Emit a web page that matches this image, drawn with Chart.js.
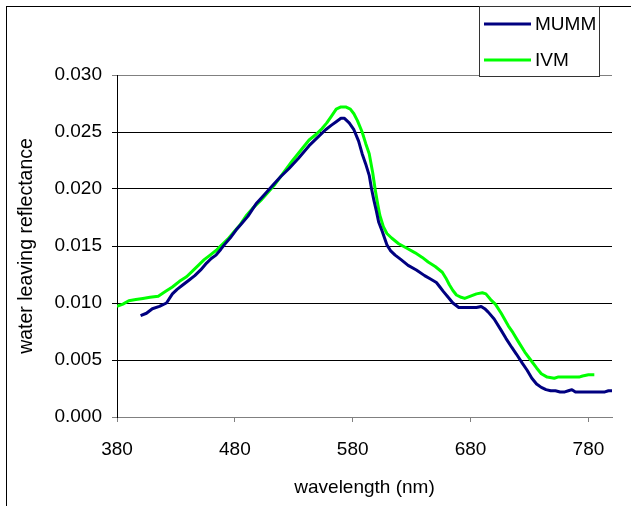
<!DOCTYPE html>
<html>
<head>
<meta charset="utf-8">
<script src="https://cdn.jsdelivr.net/npm/chart.js@4.4.1/dist/chart.umd.min.js"></script>
<style>
  body { margin: 0; background: #fff; }
</style>
</head>
<body>
<canvas id="chart" width="631" height="506"></canvas>
<script>

// wavelength ticks shown on the x axis
const xTickLabels = [380, 480, 580, 680, 780];

// MUMM spectrum
const mummWavelength = [400, 405, 410, 416, 422, 427, 431, 436, 441, 446, 451, 456, 460, 464, 468, 471, 476, 481, 486, 491,
  498, 505, 512, 519, 526, 534, 543, 550, 557, 562, 566, 570, 573, 577, 581, 585, 588, 591, 594, 596,
  598, 600, 602, 605, 609, 612, 616, 621, 627, 634, 641, 646, 651, 654, 657, 661, 665, 670, 676, 680,
  685, 689, 692, 695, 700, 706, 710, 715, 719, 724, 728, 732, 736, 740, 744, 748, 752, 756, 760, 763,
  766, 769, 776, 782, 788, 794, 797, 800];
const mummReflectance = [0.0089, 0.0091, 0.0095, 0.0097, 0.0100, 0.0108, 0.0112, 0.0116, 0.0120, 0.0124, 0.0129, 0.0135, 0.0139, 0.0142, 0.0147, 0.0151, 0.0157, 0.0164, 0.0170, 0.0176,
  0.0187, 0.0195, 0.0203, 0.0211, 0.0218, 0.0227, 0.0238, 0.0245, 0.0252, 0.0256, 0.0259, 0.0262, 0.0262, 0.0258, 0.0252, 0.0242, 0.0231, 0.0222, 0.0212, 0.0200,
  0.0190, 0.0181, 0.0171, 0.0163, 0.0151, 0.0146, 0.0142, 0.0138, 0.0133, 0.0129, 0.0124, 0.0121, 0.0118, 0.0114, 0.0110, 0.0105, 0.0100, 0.0096, 0.0096, 0.0096,
  0.0096, 0.0097, 0.0095, 0.0092, 0.0086, 0.0076, 0.0069, 0.0061, 0.0055, 0.0047, 0.0041, 0.0034, 0.0029, 0.0026, 0.0024, 0.0023, 0.0023, 0.0022, 0.0022, 0.0023,
  0.0024, 0.0022, 0.0022, 0.0022, 0.0022, 0.0022, 0.0023, 0.0023];

// IVM spectrum
const ivmWavelength = [380, 385, 390, 396, 402, 408, 415, 421, 427, 433, 439, 444, 449, 454, 459, 464, 469, 474, 479, 484,
  490, 495, 502, 508, 514, 521, 529, 536, 543, 549, 554, 558, 562, 566, 570, 574, 578, 581, 584, 588,
  591, 594, 597, 599, 601, 603, 606, 609, 613, 619, 626, 633, 639, 644, 650, 656, 659, 662, 665, 668,
  672, 675, 680, 685, 690, 693, 697, 701, 706, 712, 716, 720, 726, 731, 736, 740, 745, 751, 754, 760,
  766, 772, 775, 780, 785];
const ivmReflectance = [0.0097, 0.0099, 0.0102, 0.0103, 0.0104, 0.0105, 0.0106, 0.0110, 0.0114, 0.0119, 0.0123, 0.0128, 0.0133, 0.0138, 0.0142, 0.0146, 0.0151, 0.0156, 0.0162, 0.0168,
  0.0177, 0.0183, 0.0190, 0.0197, 0.0204, 0.0214, 0.0225, 0.0234, 0.0243, 0.0248, 0.0253, 0.0258, 0.0264, 0.0270, 0.0272, 0.0272, 0.0270, 0.0266, 0.0260, 0.0250,
  0.0240, 0.0231, 0.0214, 0.0200, 0.0188, 0.0177, 0.0167, 0.0161, 0.0157, 0.0152, 0.0148, 0.0144, 0.0140, 0.0136, 0.0132, 0.0127, 0.0122, 0.0116, 0.0111, 0.0107,
  0.0105, 0.0104, 0.0106, 0.0108, 0.0109, 0.0108, 0.0103, 0.0099, 0.0091, 0.0080, 0.0074, 0.0067, 0.0057, 0.0050, 0.0043, 0.0038, 0.0035, 0.0034, 0.0035, 0.0035,
  0.0035, 0.0035, 0.0036, 0.0037, 0.0037];

const FONT = 'Liberation Sans, Arial, sans-serif';

function toPoints(xs, ys) {
  return xs.map((x, i) => ({ x: x, y: ys[i] }));
}

// outer frame and the boxed legend in the top right, drawn like the excel original
const framePlugin = {
  id: 'frame',
  afterDraw(chart) {
    const ctx = chart.ctx;
    ctx.save();
    ctx.strokeStyle = '#000';
    ctx.lineWidth = 1;
    ctx.strokeRect(6.5, 6.5, 700, 600);

    // legend box
    ctx.fillStyle = '#fff';
    ctx.fillRect(479, 6, 121, 71);
    ctx.strokeStyle = '#333';
    ctx.strokeRect(479.5, 6.5, 120, 70);

    const rows = [24, 60];
    chart.data.datasets.forEach((ds, i) => {
      ctx.strokeStyle = ds.borderColor;
      ctx.lineWidth = 3;
      ctx.beginPath();
      ctx.moveTo(484, rows[i]);
      ctx.lineTo(531, rows[i]);
      ctx.stroke();
      ctx.fillStyle = '#000';
      ctx.font = '19px ' + FONT;
      ctx.textBaseline = 'middle';
      ctx.fillText(ds.label, 535, rows[i] + 1);
    });
    ctx.restore();
  }
};

new Chart(document.getElementById('chart'), {
  type: 'line',
  data: {
    datasets: [
      {
        label: 'MUMM',
        data: toPoints(mummWavelength, mummReflectance),
        borderColor: '#000080',
        borderWidth: 3,
        pointRadius: 0,
        borderJoinStyle: 'round',
        tension: 0
      },
      {
        label: 'IVM',
        data: toPoints(ivmWavelength, ivmReflectance),
        borderColor: '#00ff00',
        borderWidth: 3,
        pointRadius: 0,
        borderJoinStyle: 'round',
        tension: 0
      }
    ]
  },
  options: {
    responsive: false,
    animation: false,
    layout: { padding: { top: 75, right: 19, left: 0, bottom: 0 } },
    plugins: {
      legend: { display: false },
      tooltip: { enabled: false }
    },
    scales: {
      x: {
        type: 'linear',
        min: 380,
        max: 800,
        afterBuildTicks: scale => { scale.ticks = xTickLabels.map(v => ({ value: v })); },
        afterFit: scale => { scale.height = 89; },
        grid: { drawOnChartArea: false, drawTicks: true, tickLength: 5, color: '#808080' },
        border: { color: '#808080', width: 1 },
        ticks: { color: '#000', font: { family: FONT, size: 19 }, padding: 16, maxRotation: 0 },
        title: {
          display: true,
          text: 'wavelength (nm)',
          color: '#000',
          font: { family: FONT, size: 19 },
          padding: { top: 0, bottom: 7 }
        }
      },
      y: {
        min: 0,
        max: 0.03,
        afterFit: scale => { scale.width = 117; },
        grid: {
          color: c => (c.tick && c.tick.value > 0.0299) || (c.tick && c.tick.value === 0) ? '#808080' : '#000',
          tickLength: 5
        },
        border: { color: '#000', width: 1 },
        ticks: {
          stepSize: 0.005,
          color: '#000',
          padding: 10,
          font: { family: FONT, size: 19 },
          callback: v => v.toFixed(3)
        },
        title: {
          display: true,
          text: 'water leaving reflectance',
          color: '#000',
          font: { family: FONT, size: 19.5 },
          padding: { top: 15, bottom: 0 }
        }
      }
    }
  },
  plugins: [framePlugin]
});
</script>
</body>
</html>
